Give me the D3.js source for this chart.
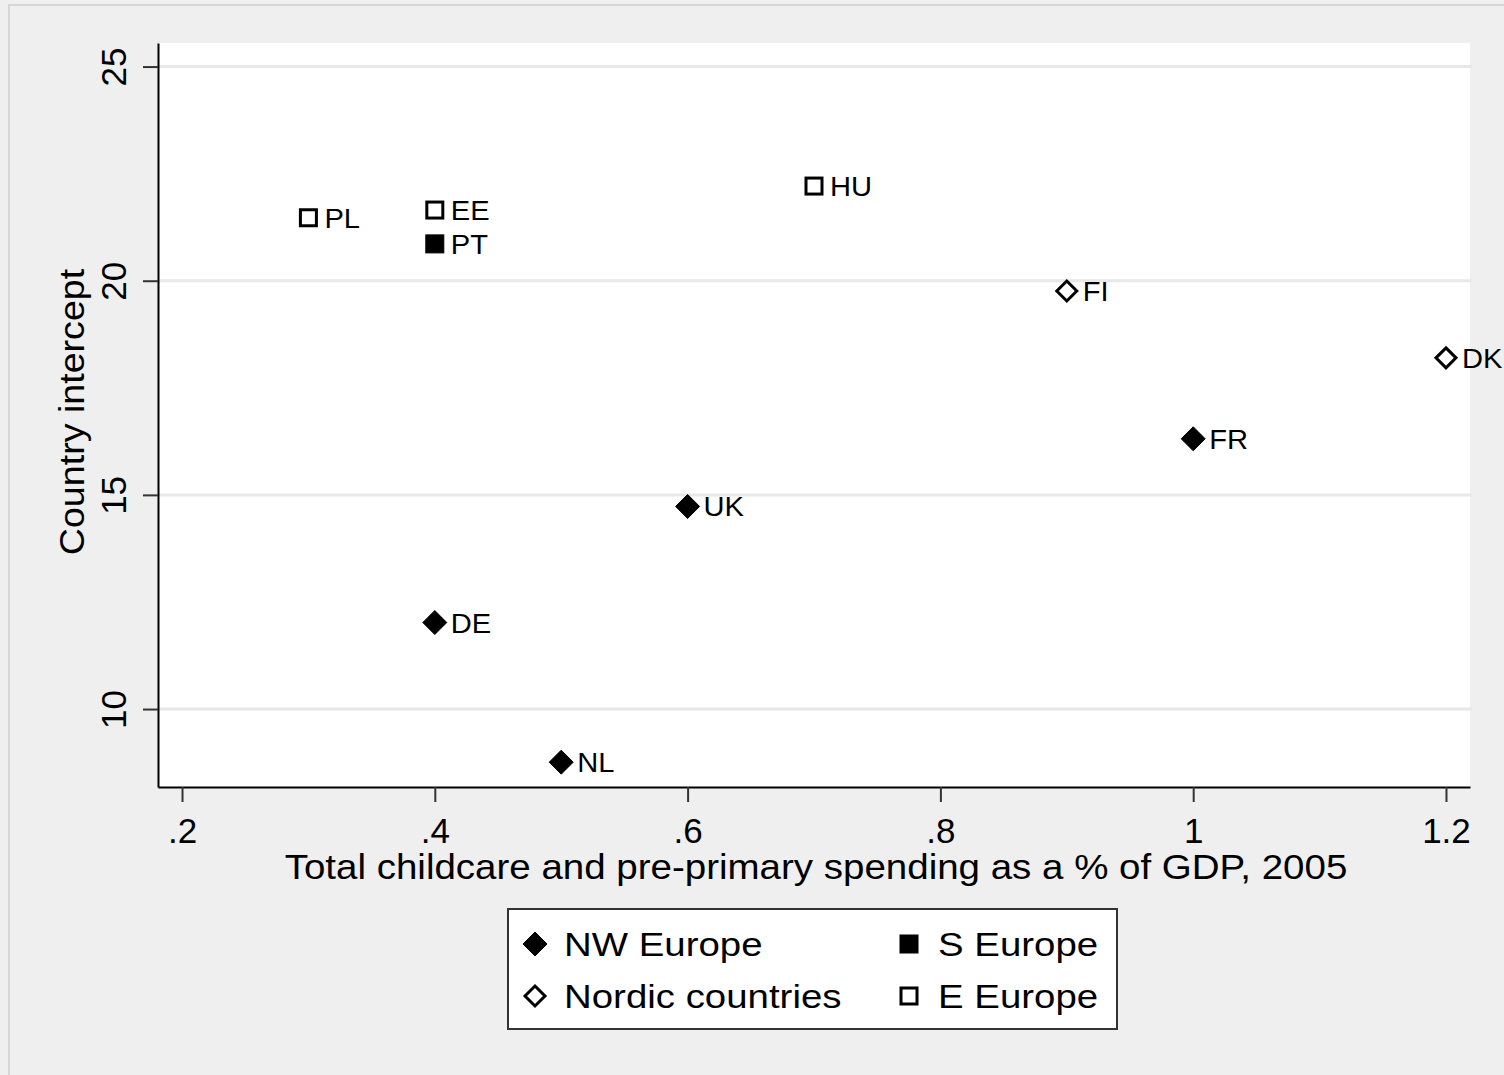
<!DOCTYPE html>
<html>
<head>
<meta charset="utf-8">
<script src="https://cdn.jsdelivr.net/npm/d3@7"></script>
<style>
  body { margin: 0; background: #efefef; }
  text { font-family: "Liberation Sans", Arial, sans-serif; fill: #000; }
</style>
</head>
<body>
<div id="chart"></div>
<script>
(function() {
	// data
	var countries = ["PL", "EE", "PT", "HU", "FI", "DK", "FR", "UK", "DE", "NL"];
	var spending = [0.3, 0.4, 0.4, 0.7, 0.9, 1.2, 1.0, 0.6, 0.4, 0.5];
	var intercept = [21.47, 21.65, 20.86, 22.21, 19.76, 18.20, 16.31, 14.73, 12.02, 8.76];
	var region = ["E", "E", "S", "E", "Nordic", "Nordic", "NW", "NW", "NW", "NW"];
	var xTicks = [0.2, 0.4, 0.6, 0.8, 1.0, 1.2];
	var xTickLabels = [".2", ".4", ".6", ".8", "1", "1.2"];
	var yTicks = [10, 15, 20, 25];
	var legendKeys = ["NW", "S", "Nordic", "E"];
	var legendLabels = ["NW Europe", "S Europe", "Nordic countries", "E Europe"];

	var width = 1504;
	var height = 1075;

	var svg = d3.select("#chart")
		.append("svg")
		.attr("width", width)
		.attr("height", height);

	// outer frame
	svg.append("rect")
		.attr("x", 9).attr("y", 5)
		.attr("width", width).attr("height", height)
		.attr("fill", "#efefef")
		.attr("stroke", "#d6d6d6")
		.attr("stroke-width", 2);

	var left = 158, right = 1470, top = 43, bottom = 787;

	var x = d3.scaleLinear().domain([0.181, 1.219]).range([left, right]);
	var y = d3.scaleLinear().domain([8.18, 25.55]).range([bottom, top]);

	svg.append("rect")
		.attr("x", left).attr("y", top)
		.attr("width", right - left).attr("height", bottom - top)
		.attr("fill", "#fff");

	// grid lines
	svg.append("g").selectAll("line")
		.data(yTicks)
		.enter()
		.append("line")
		.attr("x1", left).attr("x2", right + 2)
		.attr("y1", function(d) { return y(d); })
		.attr("y2", function(d) { return y(d); })
		.attr("stroke", "#e8e8e8")
		.attr("stroke-width", 3);

	// y axis
	var yAxis = svg.append("g")
		.attr("transform", "translate(" + left + ",0)")
		.call(d3.axisLeft(y).tickValues(yTicks).tickSize(15).tickSizeOuter(0));
	yAxis.select(".domain").attr("stroke", "#000").attr("stroke-width", 2);
	yAxis.selectAll(".tick line").attr("stroke", "#333").attr("stroke-width", 2);
	yAxis.selectAll(".tick text")
		.attr("font-size", 35)
		.attr("text-anchor", "middle")
		.attr("x", null).attr("dy", null)
		.attr("transform", "translate(-32,0) rotate(-90)");

	// x axis
	var xAxis = svg.append("g")
		.attr("transform", "translate(0," + bottom + ")")
		.call(d3.axisBottom(x).tickValues(xTicks).tickSize(15).tickSizeOuter(0)
			.tickFormat(function(d, i) { return xTickLabels[i]; }));
	xAxis.select(".domain").attr("stroke", "#000").attr("stroke-width", 2);
	xAxis.selectAll(".tick line").attr("stroke", "#333").attr("stroke-width", 2);
	xAxis.selectAll(".tick text")
		.attr("font-size", 35)
		.attr("y", 56).attr("dy", null);

	// axis titles (the original font runs a bit wider)
	svg.append("text")
		.attr("transform", "translate(" + ((left + right) / 2 + 2) + ",879) scale(1.1,1)")
		.attr("text-anchor", "middle")
		.attr("font-size", 35)
		.text("Total childcare and pre-primary spending as a % of GDP, 2005");

	svg.append("text")
		.attr("transform", "translate(84,412) rotate(-90) scale(1.075,1)")
		.attr("text-anchor", "middle")
		.attr("font-size", 35)
		.text("Country intercept");

	// markers
	function drawMarker(sel, key, cx, cy, scale) {
		var s = scale || 1;
		if (key === "NW" || key === "Nordic") {
			var r = (key === "NW" ? 12 : 10) * s;
			sel.append("path")
				.attr("d", "M" + cx + "," + (cy - r) + "L" + (cx + r) + "," + cy + "L" + cx + "," + (cy + r) + "L" + (cx - r) + "," + cy + "Z")
				.attr("fill", key === "NW" ? "#000" : "#fff")
				.attr("stroke", "#000")
				.attr("stroke-width", key === "NW" ? 1 : 3);
		} else {
			var h = (key === "S" ? 9 : 8) * s;
			sel.append("rect")
				.attr("x", cx - h).attr("y", cy - h)
				.attr("width", 2 * h).attr("height", 2 * h)
				.attr("fill", key === "S" ? "#000" : "#fff")
				.attr("stroke", "#000")
				.attr("stroke-width", key === "S" ? 1 : 3);
		}
	}

	var points = svg.append("g");
	countries.forEach(function(c, i) {
		var cx = x(spending[i]), cy = y(intercept[i]);
		drawMarker(points, region[i], cx, cy);
		points.append("text")
			.attr("transform", "translate(" + (cx + 16) + "," + (cy + 10) + ") scale(1.04,1)")
			.attr("font-size", 28)
			.text(c);
	});

	// legend
	var legend = svg.append("g");
	legend.append("rect")
		.attr("x", 508).attr("y", 909)
		.attr("width", 609).attr("height", 120)
		.attr("fill", "#fff")
		.attr("stroke", "#333")
		.attr("stroke-width", 2);
	var colX = [535, 909], rowY = [944, 996];
	legendKeys.forEach(function(k, i) {
		var lx = colX[i % 2], ly = rowY[Math.floor(i / 2)];
		drawMarker(legend, k, lx, ly, 1);
		legend.append("text")
			.attr("transform", "translate(" + (lx + 29) + "," + (ly + 12) + ") scale(1.13,1)")
			.attr("font-size", 34)
			.text(legendLabels[i]);
	});
})();
</script>
</body>
</html>
